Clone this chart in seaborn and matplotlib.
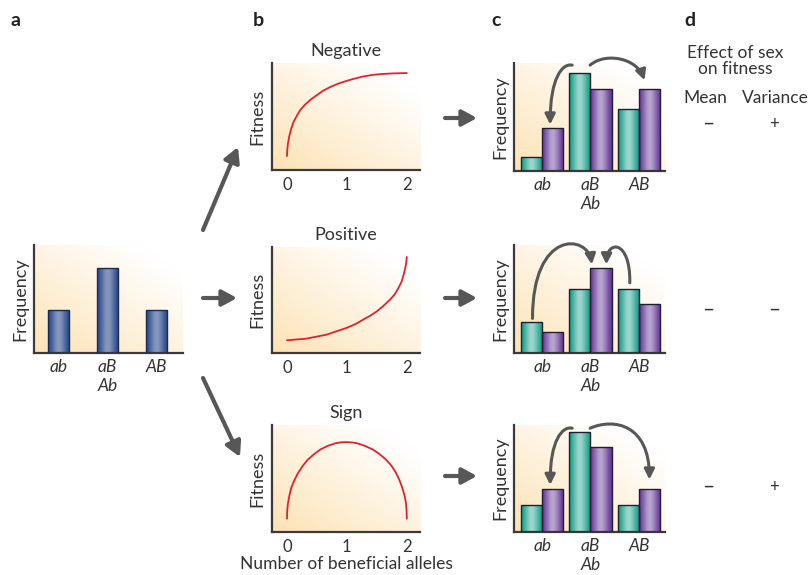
import numpy as np
import pandas as pd
import seaborn as sns
import matplotlib.pyplot as plt
from matplotlib.colors import LinearSegmentedColormap
from matplotlib.patches import FancyArrowPatch
from matplotlib.path import Path

# genotype categories (aB and Ab pooled)
genotypes = ['ab', 'aB\nAb', 'AB']
# panel a: starting frequencies
freq_start = [0.40, 0.79, 0.40]

# panel c: teal / purple bars for each epistasis type
hues = ['teal', 'purple']
freq_neg_teal = [0.13, 0.91, 0.57]
freq_neg_purple = [0.40, 0.76, 0.76]
freq_pos_teal = [0.29, 0.59, 0.59]
freq_pos_purple = [0.19, 0.79, 0.45]
freq_sign_teal = [0.25, 0.93, 0.25]
freq_sign_purple = [0.40, 0.79, 0.40]

# panel b: fitness vs number of beneficial alleles
alleles_neg = [0, 0.005, 0.017, 0.04, 0.073, 0.11, 0.158, 0.22, 0.30, 0.40, 0.50, 0.60, 0.72,
               0.85, 1.00, 1.14, 1.28, 1.42, 1.57, 1.78, 2.0]
fitness_neg = [0.131, 0.19, 0.25, 0.32, 0.39, 0.45, 0.50, 0.56, 0.61, 0.66, 0.70, 0.74, 0.775,
               0.806, 0.834, 0.856, 0.875, 0.888, 0.897, 0.903, 0.906]
alleles_pos = [0, 0.32, 0.66, 0.99, 1.14, 1.27, 1.39, 1.50, 1.61, 1.72, 1.80, 1.86, 1.91, 1.94,
               1.97, 1.99, 2.0]
fitness_pos = [0.12, 0.135, 0.173, 0.236, 0.272, 0.314, 0.352, 0.393, 0.445, 0.503, 0.555,
               0.613, 0.67, 0.723, 0.79, 0.849, 0.906]
alleles_sign = [0, 0.004, 0.016, 0.04, 0.07, 0.12, 0.18, 0.26, 0.34, 0.45, 0.56, 0.68, 0.80,
                0.90, 0.99, 1.09, 1.18, 1.30, 1.43, 1.54, 1.65, 1.74, 1.81, 1.87, 1.92, 1.96,
                1.984, 1.996, 2.0]
fitness_sign = [0.125, 0.20, 0.266, 0.34, 0.41, 0.48, 0.547, 0.615, 0.672, 0.727, 0.772, 0.805,
                0.828, 0.838, 0.84, 0.837, 0.828, 0.805, 0.772, 0.73, 0.678, 0.622, 0.5625, 0.495,
                0.42, 0.345, 0.28, 0.20, 0.125]

titles = ['Negative', 'Positive', 'Sign']
mean_effect = ['\u2013', '\u2013', '\u2013']
var_effect = ['+', '\u2013', '+']

W, H = 811, 575
BLUE = '#27478a'
TEAL = '#129d87'
PURPLE = '#653a98'
GREY = '#575757'
SPINE = '#3a3a3a'
TEXT = '#333333'

sns.set_theme(style='white')
plt.rcParams['font.family'] = ['Lato', 'DejaVu Sans']

fig = plt.figure(figsize=(W / 100, H / 100), dpi=100)
fig.patch.set_facecolor('white')

bg_cmap = LinearSegmentedColormap.from_list('bg', ['#ffffff', '#fde2b4'])


def px_axes(left, top, right, bottom):
    rect = [left / W, 1 - bottom / H, (right - left) / W, (bottom - top) / H]
    bg = fig.add_axes(rect, zorder=0)
    xx, yy = np.meshgrid(np.linspace(0, 1, 200), np.linspace(0, 1, 200))
    shade = np.clip(1 - (xx * 0.55 + yy * 0.6), 0, 1) ** 1.1
    bg.imshow(shade, cmap=bg_cmap, origin='lower', aspect='auto', extent=(0, 1, 0, 1), vmin=0, vmax=1)
    bg.axis('off')
    ax = fig.add_axes(rect, zorder=1)
    ax.set_facecolor('none')
    sns.despine(ax=ax)
    for s in ['left', 'bottom']:
        ax.spines[s].set_linewidth(1.6)
        ax.spines[s].set_color(SPINE)
    ax.tick_params(length=0)
    return ax


def shade_bars(ax, patches, base, peak=0.55):
    # horizontal highlight like a rounded bar
    cmap = LinearSegmentedColormap.from_list('bar', [base, '#ffffff'])
    prof = np.array([0.0, 0.12, 0.3, 0.48, 0.55, 0.45, 0.28, 0.1, 0.0]) * peak / 0.55
    prof = np.interp(np.linspace(0, 8, 60), np.arange(9), prof)
    for p in patches:
        x, y = p.get_x(), p.get_y()
        w, h = p.get_width(), p.get_height()
        im = ax.imshow(prof[None, :], cmap=cmap, vmin=0, vmax=1, aspect='auto',
                       extent=(x, x + w, y, y + h), zorder=2, interpolation='bilinear')
        im.set_clip_path(p)
        p.set_facecolor('none')
        p.set_zorder(3)


def freq_axes(ax):
    ax.set_ylim(0, 1)
    ax.set_yticks([])
    ax.set_xlabel('')
    ax.set_xticks([0, 1, 2])
    ax.set_xticklabels(genotypes, fontstyle='italic', fontsize=12.5, color=TEXT, linespacing=1.25)
    ax.tick_params(axis='x', pad=4)
    ax.set_ylabel('Frequency', fontsize=13, color=TEXT, labelpad=4)


# ---- panel a ----
ax_a = px_axes(34, 245, 183, 353)
sns.barplot(x=genotypes, y=freq_start, color=BLUE, width=0.43, saturation=1,
            edgecolor='#1a2a50', linewidth=1, ax=ax_a)
shade_bars(ax_a, list(ax_a.patches), BLUE, peak=0.45)
freq_axes(ax_a)
ax_a.set_xlim(-0.5, 2.54)

# ---- panel b ----
curves = [(alleles_neg, fitness_neg), (alleles_pos, fitness_pos), (alleles_sign, fitness_sign)]
b_boxes = [(272, 63, 420, 170), (272, 247, 420, 353), (272, 425, 420, 532)]
for (xs, ys), box, title in zip(curves, b_boxes, titles):
    ax = px_axes(*box)
    sns.lineplot(x=xs, y=ys, color='#e3212b', linewidth=1.3, sort=False, ax=ax)
    ax.set_xlim(-0.25, 2.22)
    ax.set_ylim(0, 1)
    ax.set_yticks([])
    ax.set_xticks([0, 1, 2])
    ax.set_xticklabels(['0', '1', '2'], fontsize=12, color=TEXT)
    ax.tick_params(axis='x', pad=5)
    ax.set_ylabel('Fitness', fontsize=13, color=TEXT, labelpad=5)
    ax.set_title(title, fontsize=13, color=TEXT, pad=5)
    if title == 'Sign':
        ax.set_xlabel('Number of beneficial alleles', fontsize=12.5, color=TEXT, labelpad=1)

# ---- panel c ----
c_sets = [(freq_neg_teal, freq_neg_purple), (freq_pos_teal, freq_pos_purple),
          (freq_sign_teal, freq_sign_purple)]
c_boxes = [(514, 63, 665, 171), (514, 245, 665, 353), (514, 425, 665, 532)]
# recombination arrows: (from genotype, hue, dx, dy), (to genotype, hue, dx, dy),
# then the two bezier control points (absolute, in data units)
c_arrows = [
    [((1, 0, -0.16, 0.07), (0, 1, -0.05, 0.03), (0.42, 1.0), (0.165, 0.86)),
     ((1, 0, 0.21, 0.07), (2, 1, -0.1, 0.08), (1.3, 1.1), (1.95, 1.05))],
    [((0, 0, 0.02, 0.03), (1, 1, -0.19, 0.03), (-0.2, 1.15), (0.95, 1.1)),
     ((2, 0, 0.03, 0.06), (1, 1, 0.11, 0.03), (1.83, 1.05), (1.34, 1.05))],
    [((1, 0, -0.16, 0.04), (0, 1, -0.05, 0.04), (0.42, 0.99), (0.165, 0.86)),
     ((1, 0, 0.21, 0.04), (2, 1, 0.0, 0.09), (1.5, 1.07), (2.22, 1.0))],
]
half = 0.87 / 4
n = len(genotypes)
for (teal, purple), box, arrows in zip(c_sets, c_boxes, c_arrows):
    ax = px_axes(*box)
    df = pd.DataFrame({'genotype': genotypes * 2,
                       'kind': [hues[0]] * n + [hues[1]] * n,
                       'freq': teal + purple})
    sns.barplot(data=df, x='genotype', y='freq', hue='kind', order=genotypes, hue_order=hues,
                palette=[TEAL, PURPLE], width=0.87, gap=0, saturation=1, legend=False,
                edgecolor='#1e1e2e', linewidth=1, ax=ax)
    bars = list(ax.patches)
    shade_bars(ax, bars[:n], TEAL, peak=0.6)
    shade_bars(ax, bars[n:2 * n], PURPLE, peak=0.55)
    freq_axes(ax)
    ax.set_xlim(-0.58, 2.54)
    vals = [teal, purple]
    for (g0, h0, dx0, dy0), (g1, h1, dx1, dy1), c1, c2 in arrows:
        p0 = (g0 + (-half if h0 == 0 else half) + dx0, vals[h0][g0] + dy0)
        p1 = (g1 + (-half if h1 == 0 else half) + dx1, vals[h1][g1] + dy1)
        path = Path([p0, c1, c2, p1], [Path.MOVETO, Path.CURVE4, Path.CURVE4, Path.CURVE4])
        arr = FancyArrowPatch(path=path, arrowstyle='-|>,head_length=0.6,head_width=0.3',
                              mutation_scale=10, color=GREY, lw=2.2, shrinkA=0, shrinkB=0,
                              clip_on=False, zorder=5)
        ax.add_patch(arr)

# ---- big arrows between panels ----
big_arrows = [((203, 230), (238, 147)), ((203, 298), (237, 298)), ((203, 378), (240, 457)),
              ((445, 118), (477, 118)), ((445, 298), (477, 298)), ((445, 476), (477, 476))]
for (x0, y0), (x1, y1) in big_arrows:
    fig.add_artist(plt.Annotation('', xy=(x1, H - y1), xytext=(x0, H - y0),
                                  xycoords='figure pixels', textcoords='figure pixels',
                                  arrowprops=dict(arrowstyle='-|>,head_length=0.55,head_width=0.3',
                                                  color=GREY, lw=3, shrinkA=0, shrinkB=0,
                                                  mutation_scale=16)))

# ---- panel letters ----
for letter, x in zip('abcd', [15, 258, 496, 690]):
    fig.text(x / W, 1 - 20 / H, letter, fontsize=14, fontweight='bold', color='#222222',
             ha='center', va='center')

# ---- panel d ----
fig.text(735 / W, 1 - 61 / H, 'Effect of sex\non fitness', fontsize=12.5, color=TEXT,
         ha='center', va='center', linespacing=1.0)
fig.text(705 / W, 1 - 98 / H, 'Mean', fontsize=12.5, color=TEXT, ha='center', va='center')
fig.text(775 / W, 1 - 98 / H, 'Variance', fontsize=12.5, color=TEXT, ha='center', va='center')
for y, m, v in zip([124, 310, 487], mean_effect, var_effect):
    fig.text(708 / W, 1 - y / H, m, fontsize=15, color=TEXT, ha='center', va='center')
    fig.text(774 / W, 1 - y / H, v, fontsize=15 if v != '+' else 12, color=TEXT,
             ha='center', va='center')

fig.savefig('out.png', dpi=100)
